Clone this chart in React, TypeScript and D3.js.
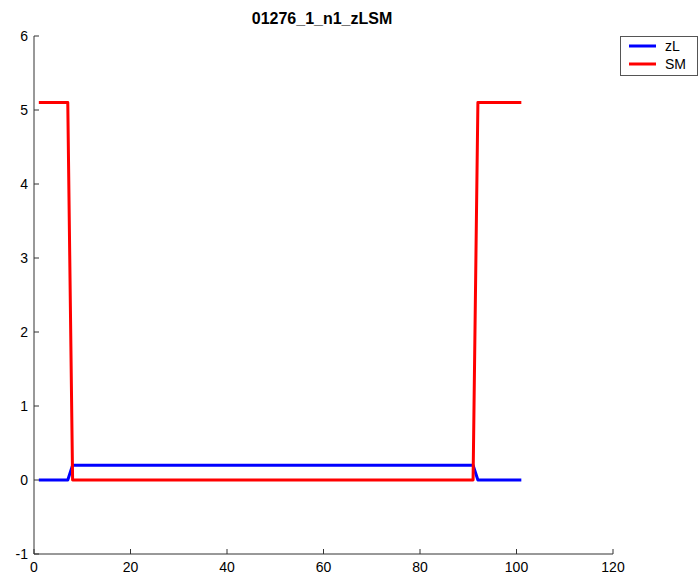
import React from "react";
import * as d3 from "d3";

const title = "01276_1_n1_zLSM";
const xs = d3.range(1, 102);
// zL: 0 at the ends, 0.2 across the middle band
const zL = xs.map((x) => (x >= 8 && x <= 91 ? 0.2 : 0));
// SM: 5.1 at the ends, 0 across the middle band
const SM = xs.map((x) => (x >= 8 && x <= 91 ? 0 : 5.1));
const xTicks = [0, 20, 40, 60, 80, 100, 120];
const yTicks = [-1, 0, 1, 2, 3, 4, 5, 6];
const seriesNames = ["zL", "SM"];
const seriesColors = ["#0000ff", "#ff0000"];

const W = 699;
const H = 578;

export default function App() {
  const x = d3.scaleLinear().domain([0, 120]).range([34, 613]);
  const y = d3.scaleLinear().domain([-1, 6]).range([554, 36]);
  const line = d3
    .line<number>()
    .x((_, i) => x(xs[i]))
    .y((d) => y(d));
  const series = [zL, SM];
  const font = "Liberation Sans, Arial, sans-serif";
  const axisColor = "#333";
  return (
    <svg
      width={W}
      height={H}
      style={{ position: "absolute", left: 0, top: 0, background: "#fff" }}
      fontFamily={font}
    >
      <rect x={0} y={0} width={W} height={H} fill="#fff" />
      <text x={322} y={24} textAnchor="middle" fontWeight="bold" fontSize={16}>
        {title}
      </text>
      {series.map((s, i) => (
        <path
          key={i}
          d={line(s) || ""}
          fill="none"
          stroke={seriesColors[i]}
          strokeWidth={3}
          strokeLinejoin="round"
        />
      ))}
      {/* axes */}
      <line x1={x(0)} x2={x(0)} y1={y(6)} y2={y(-1)} stroke={axisColor} />
      <line x1={x(0)} x2={x(120)} y1={y(-1)} y2={y(-1)} stroke={axisColor} />
      {yTicks.map((t) => (
        <g key={t}>
          <line x1={x(0)} x2={x(0) + 5} y1={y(t)} y2={y(t)} stroke={axisColor} />
          <text x={x(0) - 6} y={y(t) + 5} textAnchor="end" fontSize={14}>
            {t}
          </text>
        </g>
      ))}
      {xTicks.map((t) => (
        <g key={t}>
          <line x1={x(t)} x2={x(t)} y1={y(-1)} y2={y(-1) - 5} stroke={axisColor} />
          <text x={x(t)} y={y(-1) + 18} textAnchor="middle" fontSize={14}>
            {t}
          </text>
        </g>
      ))}
      {/* legend */}
      <rect x={620.5} y={36.5} width={77} height={39} fill="#fff" stroke="#555" />
      {seriesNames.map((n, i) => (
        <g key={n}>
          <line
            x1={629}
            x2={656}
            y1={46 + i * 18}
            y2={46 + i * 18}
            stroke={seriesColors[i]}
            strokeWidth={3}
          />
          <text x={665} y={51 + i * 18} fontSize={14}>
            {n}
          </text>
        </g>
      ))}
    </svg>
  );
}
